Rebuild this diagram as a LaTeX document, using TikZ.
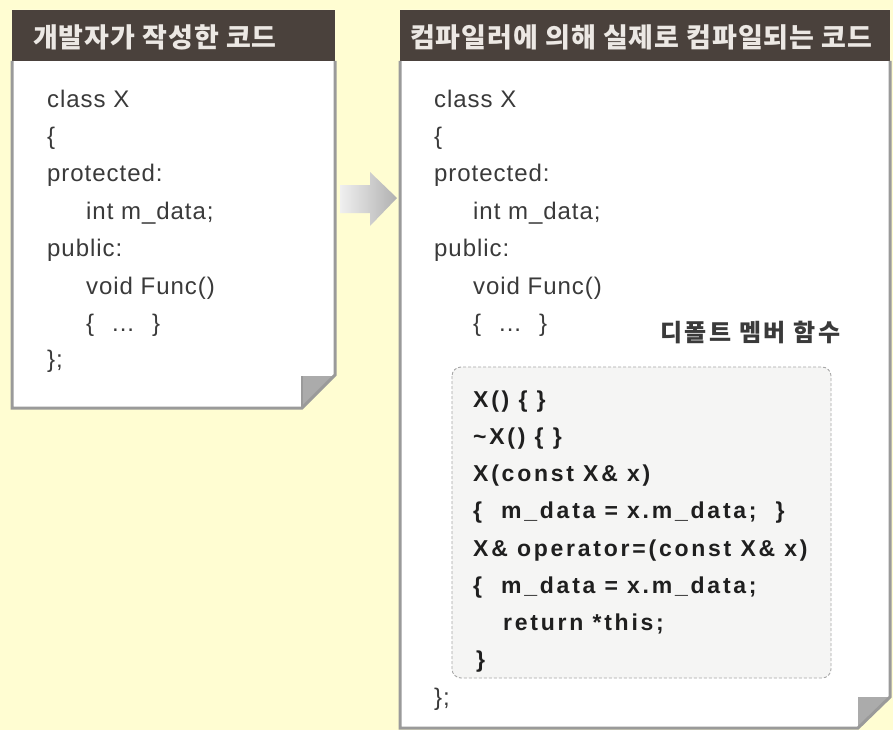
\documentclass[tikz,border=0pt]{standalone}
\usepackage{fontspec}
\setmainfont{Liberation Sans}
\newfontfamily\codefont{Liberation Sans}[LetterSpace=4]
\newfontfamily\codeboldfont{Liberation Sans}[LetterSpace=12,UprightFont=*-Bold]
\newfontfamily\krfont{Noto Sans CJK KR}[LetterSpace=3.5]
\newfontfamily\krlabelfont{Noto Sans CJK KR}[LetterSpace=10]
\definecolor{bgyellow}{HTML}{FFFDD2}
\definecolor{titlebar}{HTML}{4A413C}
\definecolor{titletext}{HTML}{ECE8E4}
\definecolor{panelline}{HTML}{9A9A9A}
\definecolor{foldgray}{HTML}{ABABAB}
\definecolor{codegray}{HTML}{3A3A3A}
\definecolor{boxfill}{HTML}{F5F5F4}
\begin{document}
\begin{tikzpicture}[x=1pt,y=-1pt,
  code/.style={anchor=base west, inner sep=0pt, font=\codefont\fontsize{24}{24}\selectfont, text=codegray},
  boldcode/.style={anchor=base west, inner sep=0pt, font=\codeboldfont\fontsize{23}{23}\selectfont, text=black!88},
  titlelabel/.style={anchor=base west, inner sep=0pt, font=\krfont\bfseries\fontsize{27}{27}\selectfont, text=titletext},
  krlabel/.style={anchor=base west, inner sep=0pt, font=\krlabelfont\bfseries\fontsize{24}{24}\selectfont, text=codegray},
  panel/.style={fill=white},
  panelborder/.style={draw=panelline, line width=3pt},
  fold/.style={fill=foldgray}]
\useasboundingbox (0,0) rectangle (893,730);
\fill[bgyellow] (0,0) rectangle (893,730);

% left panel
\fill[panel] (12,10) -- (335,10) -- (335,375) -- (302,408) -- (12,408) -- cycle;
\fill[titlebar] (12,10) rectangle (335,61);
\fill[fold] (302,376) -- (335,376) -- (302,408) -- cycle;
\draw[panelborder] (335,61) -- (335,375) -- (302,408) -- (12,408) -- (12,61);
\draw[panelline, line width=1.5pt] (302,376) -- (302,408);

% right panel
\fill[panel] (400,10) -- (890,10) -- (890,697) -- (858,728) -- (400,728) -- cycle;
\fill[titlebar] (400,10) rectangle (890,61);
\fill[fold] (858,697) -- (890,697) -- (858,728) -- cycle;
\draw[panelborder] (890,61) -- (890,697) -- (858,728) -- (400,728) -- (400,61);

% arrow between panels
\shade[left color=gray!12, right color=gray!62] (340,185) -- (370,185) -- (370,172) -- (397,198) -- (370,226) -- (370,213) -- (340,213) -- cycle;

% titles
\node[titlelabel] (t1) at (33,48) {개발자가 작성한 코드};
\node[titlelabel] (t2) at (410,48) {컴파일러에 의해 실제로 컴파일되는 코드};

% left code
\node[code] (l1) at (47,108) {class X};
\node[code] (l2) at (47,145) {\{};
\node[code] (l3) at (47,182) {protected:};
\node[code] (l4) at (86,219) {int m\_data;};
\node[code] (l5) at (47,256) {public:};
\node[code] (l6) at (86,294) {void Func()};
\node[code] (l7) at (86,331) {\{\hspace{18pt}...\hspace{18pt}\}};
\node[code] (l8) at (47,367) {\};};

% right code
\node[code] (r1) at (434,108) {class X};
\node[code] (r2) at (434,145) {\{};
\node[code] (r3) at (434,182) {protected:};
\node[code] (r4) at (473,219) {int m\_data;};
\node[code] (r5) at (434,256) {public:};
\node[code] (r6) at (473,294) {void Func()};
\node[code] (r7) at (473,331) {\{\hspace{18pt}...\hspace{18pt}\}};
\node[krlabel] (dl) at (660,341) {디폴트 멤버 함수};

% default member box
\draw[draw=gray!70, fill=boxfill, dash pattern=on 3pt off 2pt, line width=0.9pt, rounded corners=9pt] (452,367) rectangle (831,678);
\node[boldcode] (b1) at (473,407) {X() \{ \}};
\node[boldcode] (b2) at (473,444) {\textasciitilde X() \{ \}};
\node[boldcode] (b3) at (473,481) {X(const X\& x)};
\node[boldcode] (b4) at (473,518) {\{\hspace{19pt}m\_data = x.m\_data;\hspace{19pt}\}};
\node[boldcode] (b5) at (473,556) {X\& operator=(const X\& x)};
\node[boldcode] (b6) at (473,593) {\{\hspace{19pt}m\_data = x.m\_data;};
\node[boldcode] (b7) at (503,630) {return *this;};
\node[boldcode] (b8) at (476,667) {\}};
\node[code] (r8) at (434,705) {\};};
\end{tikzpicture}
\end{document}
